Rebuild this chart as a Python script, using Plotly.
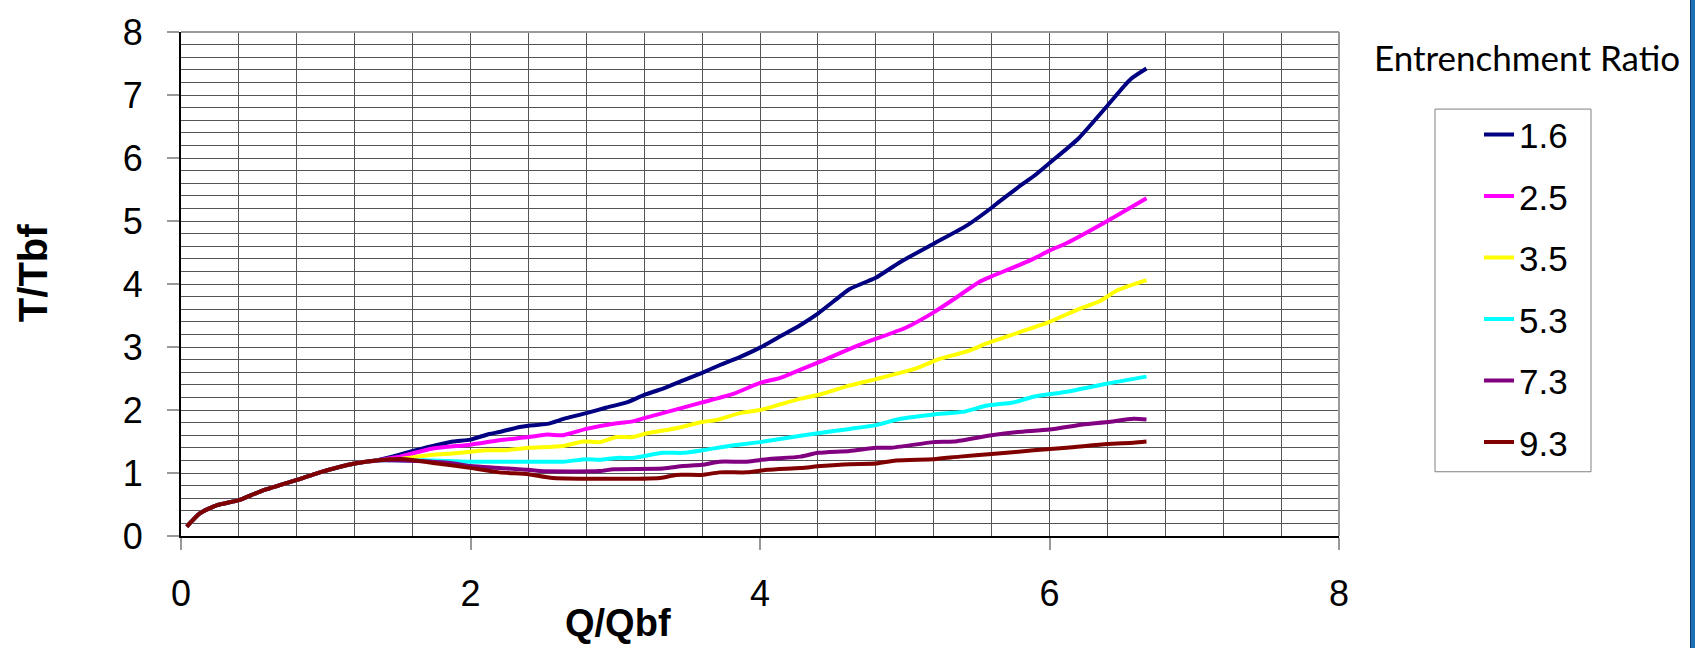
import plotly.graph_objects as go

# ---- data ----
ratios = ["1.6", "2.5", "3.5", "5.3", "7.3", "9.3"]
colors = ["#000080", "#FF00FF", "#FFFF00", "#00FFFF", "#800080", "#800000"]

base_x = [0.04, 0.13, 0.25, 0.40, 0.55, 0.80, 0.96, 1.20, 1.35]
base_y = [0.15, 0.36, 0.49, 0.57, 0.71, 0.89, 1.01, 1.15, 1.20]

x_16 = [1.51, 1.6, 1.74, 1.88, 2.0, 2.13, 2.2, 2.34, 2.4, 2.53, 2.66, 2.8, 2.94, 3.08, 3.2, 3.33, 3.47, 3.6,
        3.72, 3.86, 4.0, 4.14, 4.28, 4.4, 4.55, 4.62, 4.74, 4.8, 4.97, 5.2, 5.43, 5.6, 5.66, 5.81, 5.89, 6.0,
        6.2, 6.4, 6.56, 6.67]
y_16 = [1.29, 1.35, 1.43, 1.50, 1.53, 1.62, 1.65, 1.73, 1.75, 1.78, 1.87, 1.95, 2.04, 2.12, 2.24, 2.34, 2.47, 2.59,
        2.71, 2.84, 2.99, 3.17, 3.35, 3.53, 3.80, 3.92, 4.04, 4.10, 4.35, 4.64, 4.93, 5.21, 5.32, 5.58, 5.71, 5.92,
        6.31, 6.83, 7.25, 7.42]

x_25 = [1.51, 1.74, 2.0, 2.2, 2.4, 2.53, 2.64, 2.8, 3.01, 3.12, 3.2, 3.36, 3.6, 3.82, 4.0, 4.14, 4.28, 4.45,
        4.6, 4.74, 5.01, 5.2, 5.34, 5.52, 5.6, 5.87, 6.0, 6.12, 6.4, 6.67]
y_25 = [1.26, 1.39, 1.45, 1.52, 1.57, 1.61, 1.60, 1.70, 1.79, 1.82, 1.87, 1.97, 2.12, 2.26, 2.43, 2.51, 2.64, 2.80,
        2.95, 3.08, 3.31, 3.55, 3.76, 4.04, 4.12, 4.38, 4.53, 4.65, 5.00, 5.36]

x_35 = [1.51, 1.74, 1.88, 2.11, 2.23, 2.4, 2.64, 2.78, 2.89, 3.01, 3.12, 3.22, 3.42, 3.6, 3.70, 3.86, 4.0, 4.14,
        4.28, 4.42, 4.62, 4.8, 5.08, 5.24, 5.43, 5.57, 5.8, 6.0, 6.19, 6.35, 6.46, 6.67]
y_35 = [1.22, 1.29, 1.31, 1.36, 1.36, 1.40, 1.43, 1.50, 1.49, 1.57, 1.57, 1.63, 1.71, 1.81, 1.84, 1.95, 2.00, 2.09,
        2.18, 2.25, 2.39, 2.49, 2.66, 2.81, 2.93, 3.06, 3.24, 3.40, 3.59, 3.73, 3.89, 4.06]

x_53 = [1.51, 1.74, 1.97, 2.4, 2.64, 2.8, 2.89, 3.01, 3.12, 3.33, 3.47, 3.6, 3.82, 4.0, 4.28, 4.4, 4.62, 4.8,
        4.97, 5.2, 5.40, 5.57, 5.75, 5.89, 6.12, 6.4, 6.67]
y_53 = [1.20, 1.20, 1.18, 1.18, 1.18, 1.22, 1.21, 1.24, 1.24, 1.32, 1.32, 1.36, 1.44, 1.49, 1.59, 1.63, 1.70, 1.76,
        1.86, 1.93, 1.97, 2.07, 2.12, 2.21, 2.29, 2.42, 2.53]

x_73 = [1.51, 1.86, 2.0, 2.2, 2.4, 2.48, 2.89, 2.99, 3.33, 3.47, 3.6, 3.72, 3.91, 4.05, 4.28, 4.4, 4.62, 4.8,
        4.90, 5.2, 5.34, 5.6, 5.78, 6.0, 6.23, 6.4, 6.58, 6.67]
y_73 = [1.20, 1.16, 1.11, 1.08, 1.05, 1.03, 1.03, 1.06, 1.07, 1.11, 1.13, 1.18, 1.18, 1.22, 1.26, 1.32, 1.35, 1.40,
        1.40, 1.49, 1.50, 1.60, 1.65, 1.69, 1.77, 1.81, 1.86, 1.85]

x_93 = [1.55, 1.74, 1.97, 2.2, 2.4, 2.57, 3.31, 3.42, 3.6, 3.72, 3.91, 4.05, 4.28, 4.42, 4.62, 4.8, 4.94, 5.2,
        5.38, 5.6, 5.89, 6.12, 6.4, 6.58, 6.67]
y_93 = [1.22, 1.16, 1.09, 1.01, 0.98, 0.92, 0.92, 0.97, 0.97, 1.01, 1.01, 1.05, 1.08, 1.11, 1.14, 1.15, 1.20, 1.22,
        1.26, 1.30, 1.36, 1.40, 1.46, 1.48, 1.50]

series_x = [x_16, x_25, x_35, x_53, x_73, x_93]
series_y = [y_16, y_25, y_35, y_53, y_73, y_93]

x_ticks = [0, 2, 4, 6, 8]
y_ticks = [0, 1, 2, 3, 4, 5, 6, 7, 8]

# ---- geometry (px) ----
W, H = 1695, 648
L, R, T, B = 181, 1339, 26, 536
pw, ph = R - L, B - T


def px(xp):
    return (xp - L) / pw


def py(yp):
    return (B - yp) / ph


fig = go.Figure()
for i, (name, c) in enumerate(zip(ratios, colors)):
    fig.add_trace(go.Scatter(
        x=base_x + series_x[i], y=base_y + series_y[i],
        mode="lines", name=name, legendgroup=name,
        line=dict(color=c, width=4, shape="spline", smoothing=0.6),
    ))

grid_col = "#555555"
tickfont = dict(family="Liberation Sans, Arial, sans-serif", size=36, color="black")

fig.update_layout(
    width=W, height=H,
    margin=dict(l=L, r=W - R, t=T, b=H - B, pad=0),
    paper_bgcolor="white", plot_bgcolor="white",
    showlegend=True,
    legend=dict(
        x=px(1479), y=py(100), xanchor="left", yanchor="top",
        bgcolor="rgba(0,0,0,0)", borderwidth=0,
        font=dict(family="Liberation Sans, Arial, sans-serif", size=35, color="black"),
        tracegroupgap=13, traceorder="grouped",
    ),
    xaxis=dict(
        range=[0, 8], tickvals=x_ticks, ticktext=[str(v) for v in x_ticks],
        showgrid=True, gridcolor=grid_col, gridwidth=1,
        minor=dict(dtick=0.4, showgrid=True, gridcolor=grid_col, gridwidth=1, ticks=""),
        showline=True, linecolor="black", linewidth=2,
        ticks="outside", ticklen=12, tickcolor="#999999", tickwidth=2,
        tickfont=tickfont, ticklabelstandoff=13, zeroline=False, fixedrange=True,
    ),
    yaxis=dict(
        range=[0, 8], tickvals=y_ticks, ticktext=[str(v) for v in y_ticks],
        showgrid=True, gridcolor=grid_col, gridwidth=1,
        minor=dict(dtick=0.2, showgrid=True, gridcolor=grid_col, gridwidth=1, ticks=""),
        showline=True, linecolor="black", linewidth=2,
        ticks="outside", ticklen=12, tickcolor="#999999", tickwidth=2,
        tickfont=tickfont, ticklabelstandoff=17, zeroline=False, fixedrange=True,
    ),
)

shapes = [
    # top and right plot border (gray)
    dict(type="line", xref="paper", yref="paper", x0=0, x1=1, y0=1, y1=1,
         line=dict(color="#9a9a9a", width=2)),
    dict(type="line", xref="paper", yref="paper", x0=1, x1=1, y0=0, y1=1,
         line=dict(color="#9a9a9a", width=2)),
    # legend box
    dict(type="rect", xref="paper", yref="paper", x0=px(1435), x1=px(1591), y0=py(471), y1=py(104),
         line=dict(color="#808080", width=1), fillcolor="rgba(0,0,0,0)"),
    # blue strip at right edge of the slide
    dict(type="rect", xref="paper", yref="paper", x0=px(1690), x1=px(1700), y0=py(660), y1=py(-10),
         line=dict(width=0), fillcolor="#1f6fb6"),
    dict(type="line", xref="paper", yref="paper", x0=px(1690.5), x1=px(1690.5), y0=py(660), y1=py(-10),
         line=dict(color="#0b3d6e", width=1)),
]
fig.update_layout(shapes=shapes)

annotations = [
    dict(text="<b>T/Tbf</b>", xref="paper", yref="paper", x=px(33), y=py(270),
         xanchor="center", yanchor="middle", textangle=-90, showarrow=False,
         font=dict(family="Liberation Sans, Arial, sans-serif", size=40, color="black")),
    dict(text="<b>Q/Qbf</b>", xref="paper", yref="paper", x=px(618), y=py(647),
         xanchor="center", yanchor="bottom", showarrow=False,
         font=dict(family="Liberation Sans, Arial, sans-serif", size=38, color="black")),
    dict(text="Entrenchment Ratio", xref="paper", yref="paper", x=px(1527), y=py(51),
         xanchor="center", yanchor="middle", showarrow=False,
         font=dict(family="Lato, Carlito, Calibri, sans-serif", size=35, color="black")),
]
fig.update_layout(annotations=annotations)

fig.write_html("out.html", config={"displayModeBar": False})
